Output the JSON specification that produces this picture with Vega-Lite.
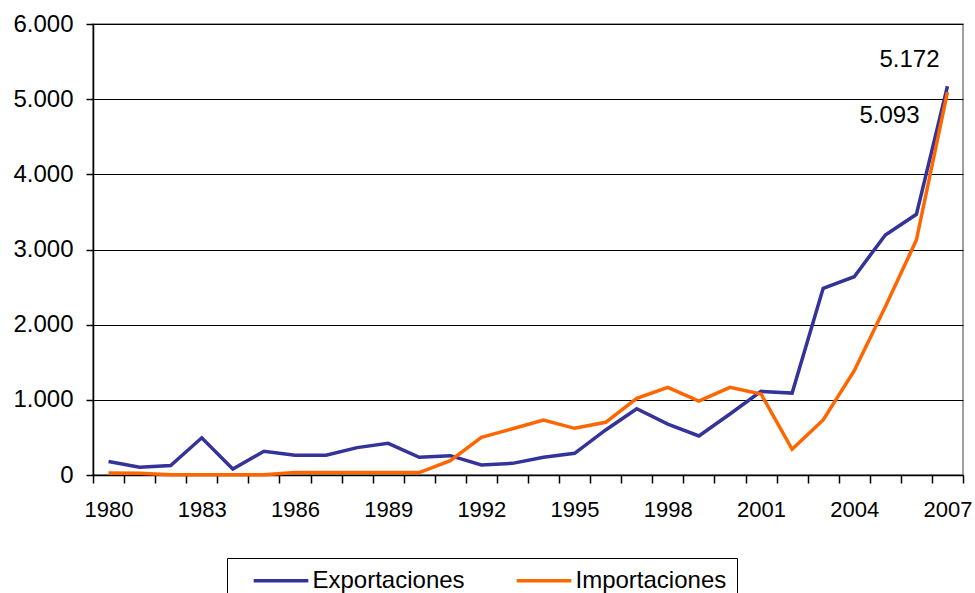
{
  "$schema": "https://vega.github.io/schema/vega-lite/v6.json",
  "width": 870,
  "height": 451,
  "autosize": {"type": "none"},
  "padding": {"left": 93, "top": 24, "right": 12, "bottom": 118},
  "background": "white",
  "config": {
    "font": "Liberation Sans",
    "locale": {"number": {"decimal": ",", "thousands": ".", "grouping": [3], "currency": ["", ""]}},
    "view": {"stroke": "#808080", "strokeWidth": 1.5}
  },
  "data": {
    "values": [
      {"year": 1980, "serie": "Exportaciones", "value": 180},
      {"year": 1981, "serie": "Exportaciones", "value": 102},
      {"year": 1982, "serie": "Exportaciones", "value": 125},
      {"year": 1983, "serie": "Exportaciones", "value": 495},
      {"year": 1984, "serie": "Exportaciones", "value": 80},
      {"year": 1985, "serie": "Exportaciones", "value": 315},
      {"year": 1986, "serie": "Exportaciones", "value": 262},
      {"year": 1987, "serie": "Exportaciones", "value": 262},
      {"year": 1988, "serie": "Exportaciones", "value": 364},
      {"year": 1989, "serie": "Exportaciones", "value": 421},
      {"year": 1990, "serie": "Exportaciones", "value": 235},
      {"year": 1991, "serie": "Exportaciones", "value": 257},
      {"year": 1992, "serie": "Exportaciones", "value": 133},
      {"year": 1993, "serie": "Exportaciones", "value": 155},
      {"year": 1994, "serie": "Exportaciones", "value": 235},
      {"year": 1995, "serie": "Exportaciones", "value": 288},
      {"year": 1996, "serie": "Exportaciones", "value": 599},
      {"year": 1997, "serie": "Exportaciones", "value": 882},
      {"year": 1998, "serie": "Exportaciones", "value": 678},
      {"year": 1999, "serie": "Exportaciones", "value": 519},
      {"year": 2000, "serie": "Exportaciones", "value": 811},
      {"year": 2001, "serie": "Exportaciones", "value": 1113},
      {"year": 2002, "serie": "Exportaciones", "value": 1090},
      {"year": 2003, "serie": "Exportaciones", "value": 2483},
      {"year": 2004, "serie": "Exportaciones", "value": 2638},
      {"year": 2005, "serie": "Exportaciones", "value": 3193},
      {"year": 2006, "serie": "Exportaciones", "value": 3468},
      {"year": 2007, "serie": "Exportaciones", "value": 5172},
      {"year": 1980, "serie": "Importaciones", "value": 25},
      {"year": 1981, "serie": "Importaciones", "value": 22},
      {"year": 1982, "serie": "Importaciones", "value": 3},
      {"year": 1983, "serie": "Importaciones", "value": 2},
      {"year": 1984, "serie": "Importaciones", "value": 2},
      {"year": 1985, "serie": "Importaciones", "value": 3},
      {"year": 1986, "serie": "Importaciones", "value": 32},
      {"year": 1987, "serie": "Importaciones", "value": 32},
      {"year": 1988, "serie": "Importaciones", "value": 32},
      {"year": 1989, "serie": "Importaciones", "value": 32},
      {"year": 1990, "serie": "Importaciones", "value": 32},
      {"year": 1991, "serie": "Importaciones", "value": 191},
      {"year": 1992, "serie": "Importaciones", "value": 501},
      {"year": 1993, "serie": "Importaciones", "value": 615},
      {"year": 1994, "serie": "Importaciones", "value": 732},
      {"year": 1995, "serie": "Importaciones", "value": 621},
      {"year": 1996, "serie": "Importaciones", "value": 701},
      {"year": 1997, "serie": "Importaciones", "value": 1020},
      {"year": 1998, "serie": "Importaciones", "value": 1167},
      {"year": 1999, "serie": "Importaciones", "value": 984},
      {"year": 2000, "serie": "Importaciones", "value": 1167},
      {"year": 2001, "serie": "Importaciones", "value": 1078},
      {"year": 2002, "serie": "Importaciones", "value": 342},
      {"year": 2003, "serie": "Importaciones", "value": 732},
      {"year": 2004, "serie": "Importaciones", "value": 1388},
      {"year": 2005, "serie": "Importaciones", "value": 2239},
      {"year": 2006, "serie": "Importaciones", "value": 3126},
      {"year": 2007, "serie": "Importaciones", "value": 5093}
    ]
  },
  "encoding": {
    "x": {
      "field": "year",
      "type": "quantitative",
      "scale": {"domain": [1979.5, 2007.5], "nice": false, "zero": false},
      "axis": {
        "title": null,
        "values": [1979.5, 1980.5, 1981.5, 1982.5, 1983.5, 1984.5, 1985.5, 1986.5, 1987.5, 1988.5, 1989.5, 1990.5, 1991.5, 1992.5, 1993.5, 1994.5, 1995.5, 1996.5, 1997.5, 1998.5, 1999.5, 2000.5, 2001.5, 2002.5, 2003.5, 2004.5, 2005.5, 2006.5, 2007.5],
        "labelExpr": "(datum.value - 1979.5) % 3 == 0 && datum.value < 2007 ? format(datum.value + 0.5, 'd') : ''",
        "labelOffset": 15.5,
        "labelOverlap": false,
        "labelBound": false,
        "labelFlush": false,
        "labelFontSize": 22,
        "labelColor": "#000000",
        "labelPadding": 16,
        "domainColor": "#000000",
        "domainWidth": 1.5,
        "tickColor": "#000000",
        "tickSize": 8,
        "tickWidth": 1.5,
        "grid": false
      }
    },
    "y": {
      "field": "value",
      "type": "quantitative",
      "scale": {"domain": [0, 6000], "nice": false},
      "axis": {
        "title": null,
        "values": [0, 1000, 2000, 3000, 4000, 5000, 6000],
        "format": ",d",
        "labelFontSize": 24,
        "labelColor": "#000000",
        "labelPadding": 13,
        "domainColor": "#000000",
        "domainWidth": 1.5,
        "tickColor": "#000000",
        "tickSize": 7,
        "tickWidth": 1.5,
        "grid": true,
        "gridColor": "#000000",
        "gridWidth": 1,
        "gridOpacity": 1
      }
    },
    "color": {
      "field": "serie",
      "type": "nominal",
      "scale": {"domain": ["Exportaciones", "Importaciones"], "range": ["#333399", "#FF6600"]},
      "legend": {
        "title": null,
        "orient": "none",
        "legendX": 134,
        "legendY": 534,
        "direction": "horizontal",
        "symbolType": "M-2.6,0H2.6",
        "symbolSize": 441,
        "symbolStrokeWidth": 3.5,
        "symbolOffset": 31.5,
        "labelFontSize": 24,
        "labelColor": "#000000",
        "labelOffset": 19,
        "columnPadding": 35,
        "padding": 10,
        "strokeColor": "#000000",
        "labelLimit": 300
      }
    }
  },
  "layer": [
    {
      "mark": {"type": "line", "strokeWidth": 3.5}
    },
    {
      "transform": [{"filter": "datum.serie == 'Exportaciones' && datum.year == 2007"}],
      "mark": {"type": "text", "dx": -38, "dy": -26, "fontSize": 24, "color": "#000000"},
      "encoding": {"text": {"field": "value", "type": "quantitative", "format": ","}, "color": {"value": "#000000"}}
    },
    {
      "transform": [{"filter": "datum.serie == 'Importaciones' && datum.year == 2007"}],
      "mark": {"type": "text", "dx": -58, "dy": 24, "fontSize": 24, "color": "#000000"},
      "encoding": {"text": {"field": "value", "type": "quantitative", "format": ","}, "color": {"value": "#000000"}}
    }
  ]
}
